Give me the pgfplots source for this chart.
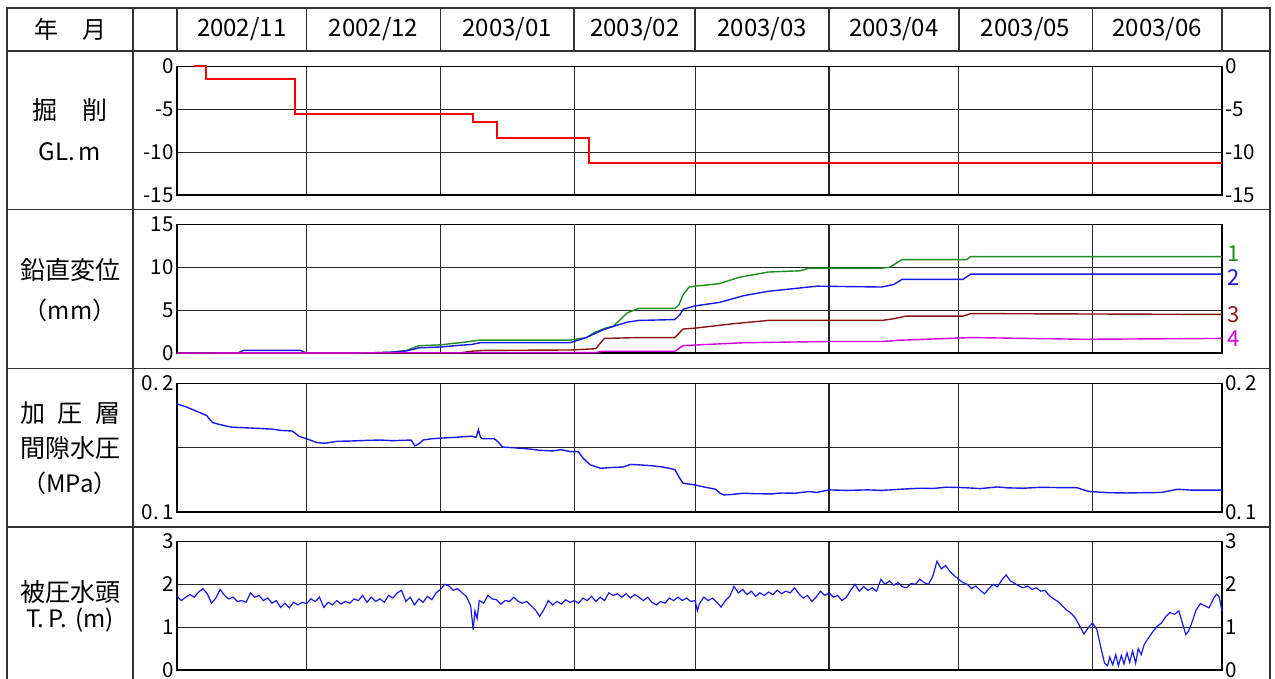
\documentclass[border=0pt]{standalone}
\usepackage{pgfplots}
\pgfplotsset{compat=1.18}
\usepackage{fontspec}
\setmainfont{Noto Sans CJK JP}
\definecolor{cgreen}{RGB}{30,140,30}
\definecolor{cblue}{RGB}{25,25,230}
\definecolor{cbrown}{RGB}{140,20,20}
\definecolor{cmag}{RGB}{210,0,220}
\definecolor{cred}{RGB}{250,0,0}
\definecolor{tline}{RGB}{50,50,50}
\newcommand\fs[1]{\fontsize{#1}{#1}\selectfont}
\tikzset{endlab/.style={pos=1, anchor=west, font=\fs{11}, inner xsep=2.5pt, inner ysep=0.3pt, text height=7.9pt, text depth=0pt}}
\pgfplotsset{
  panel/.style={
    scale only axis, width=522.5pt, height=64.25pt,
    xmin=0, xmax=242, xtick={30,61,92,120,151,181,212}, xticklabel=\empty,
    xmajorgrids, ymajorgrids,
    grid style={black!85, line width=0.65pt},
    axis line style={black, line width=0.7pt},
    major tick length=0pt, tick style={draw=none},
    yticklabel style={font=\fs{10.3}, inner sep=1.5pt},
    clip=false, anchor=south west,
  },
  rlabels/.style={
    scale only axis, width=522.5pt, height=64.25pt,
    xmin=0, xmax=242, xtick=\empty,
    axis line style={draw=none},
    major tick length=0pt, tick style={draw=none},
    yticklabel pos=right,
    yticklabel style={font=\fs{10.3}, inner sep=1.5pt},
    anchor=south west,
  },
}
\begin{document}
\begin{tikzpicture}[x=0.5pt,y=0.5pt]
\useasboundingbox (0,0) rectangle (1275,679);
\coordinate (P1) at (177,484);
\coordinate (P2) at (177,326);
\coordinate (P3) at (177,167);
\coordinate (P4) at (177,9);
% table
\draw[tline, line width=0.9pt] (7,0) -- (7,671) -- (1270,671) -- (1270,0);
\draw[tline, line width=0.9pt] (133,0) -- (133,671);
\foreach \yy in {628,469.5,310.5,152} \draw[tline, line width=0.9pt] (7,\yy) -- (1270,\yy);
\foreach \xx in {177,306.5,440.4,574.3,695.2,829,958.6,1092.4,1222} \draw[tline, line width=0.9pt] (\xx,671) -- (\xx,628);
% header text
\node[font=\fs{12}] at (70,650) {年\hspace{1em}月};
\node[font=\fs{12}] at (241.7,650) {2002/11};
\node[font=\fs{12}] at (373.5,650) {2002/12};
\node[font=\fs{12}] at (507.3,650) {2003/01};
\node[font=\fs{12}] at (634.7,650) {2003/02};
\node[font=\fs{12}] at (762.1,650) {2003/03};
\node[font=\fs{12}] at (893.8,650) {2003/04};
\node[font=\fs{12}] at (1025.5,650) {2003/05};
\node[font=\fs{12}] at (1157.2,650) {2003/06};
% left labels
\node[font=\fs{12.5}] at (70,569) {掘\hspace{1em}削};
\node[font=\fs{12}] at (70,527) {GL.\,m};
\node[font=\fs{12.5}] at (70,409) {鉛直変位};
\node[font=\fs{12}] at (70,369) {（mm）};
\node[font=\fs{12.5}] at (70,266) {加\hspace{0.5em}圧\hspace{0.5em}層};
\node[font=\fs{12.5}] at (70,231) {間隙水圧};
\node[font=\fs{12}] at (70,196) {（MPa）};
\node[font=\fs{12.5}] at (70,87) {被圧水頭};
\node[font=\fs{12}] at (70,59) {T.\,P.\,\,(m)};

% ---- Panel 1: excavation
\begin{axis}[panel, at={(P1)}, ymin=-15, ymax=0, ytick={-15,-10,-5,0}, yticklabels={-15,-10,-5,0}]
\addplot[cred, line width=1pt] coordinates {
(3.9,0) (6.7,0) (6.7,-1.5) (27.4,-1.5) (27.4,-5.5) (68.5,-5.5) (68.5,-6.5) (74.2,-6.5) (74.2,-8.3) (95.5,-8.3) (95.5,-11.3) (242,-11.3)};
\end{axis}
\begin{axis}[rlabels, at={(P1)}, ymin=-15, ymax=0, ytick={-15,-10,-5,0}, yticklabels={-15,-10,-5,0}]
\end{axis}

% ---- Panel 2: vertical displacement
\begin{axis}[panel, at={(P2)}, ymin=0, ymax=15, ytick={0,5,10,15}, yticklabels={0,5,10,15}]
\addplot[cgreen, line width=0.7pt] coordinates {
(0,0) (43.8,0) (50,0.1) (53.2,0.3) (56,0.85) (61,0.95) (65.5,1.2) (70.2,1.5) (91,1.5) (94.8,1.8) (96.7,2.4) (99.5,2.95) (101,3.1) (104.3,4.7) (106.9,5.2) (115.3,5.2) (116.2,5.6) (117.2,6.8) (118.6,7.7) (120,7.8) (125.6,8.1) (130.3,8.85) (136.9,9.45) (144.4,9.6) (146.3,9.9) (163.2,9.9) (165,10.0) (167.9,10.9) (182.9,10.9) (183.8,11.25) (242,11.25)}
node[endlab, text=cgreen, yshift=1.5pt] {1};
\addplot[cblue, line width=0.7pt] coordinates {
(0,0) (14,0) (15.4,0.3) (28.6,0.3) (30,0) (43.8,0) (50,0.1) (53.2,0.25) (56,0.6) (61,0.7) (65.5,0.9) (68.3,1.0) (70.2,1.2) (91,1.2) (94.8,1.8) (98.6,2.7) (101,3.1) (104.3,3.6) (106.9,3.8) (115.3,3.9) (116.5,4.5) (117.2,5.1) (120,5.5) (125.6,5.9) (131.3,6.7) (136.9,7.2) (148.2,7.8) (163.2,7.7) (166,8.0) (167.9,8.6) (182,8.6) (183.8,9.2) (242,9.2)}
node[endlab, text=cblue, yshift=-1.5pt] {2};
\addplot[cbrown, line width=0.7pt] coordinates {
(0,0) (65.5,0) (68,0.2) (71.2,0.3) (91,0.35) (97,0.5) (98.1,1.2) (99,1.7) (106.9,1.8) (115.3,1.8) (117.2,2.8) (120,2.9) (128.5,3.4) (136.9,3.8) (163.2,3.8) (166,4.0) (168.8,4.3) (182,4.3) (183.8,4.6) (242,4.5)}
node[endlab, text=cbrown] {3};
\addplot[cmag, line width=0.7pt] coordinates {
(0,0) (97,0.05) (98.5,0.2) (115.3,0.2) (117.2,0.86) (131.3,1.2) (151,1.34) (163.2,1.34) (167.9,1.5) (183.8,1.8) (210,1.6) (242,1.7)}
node[endlab, text=cmag] {4};
\end{axis}

% ---- Panel 3: pore water pressure
\begin{axis}[panel, at={(P3)}, ymin=0.1, ymax=0.2, ytick={0.1,0.15,0.2}, yticklabels={0.\,1,,0.\,2}]
\addplot[cblue, line width=0.7pt] coordinates {
(0,0.184) (2,0.182) (4.1,0.179) (5.5,0.177) (6.9,0.175) (7.6,0.172) (8.3,0.1695) (10,0.168) (12.6,0.166) (16,0.1655) (19.2,0.165) (22,0.1645) (24,0.1635) (26.7,0.163) (27.5,0.161) (28.2,0.159) (30,0.157) (32.4,0.154) (34.3,0.1535) (37,0.155) (40,0.1552) (43.8,0.1557) (47,0.156) (50,0.1555) (54.2,0.156) (55.1,0.1515) (56,0.153) (57,0.156) (59,0.157) (61.1,0.1575) (64,0.158) (68.3,0.159) (69.3,0.158) (69.8,0.164) (70.3,0.158) (70.7,0.157) (73.5,0.157) (74.5,0.154) (75.4,0.1505) (78,0.150) (81.6,0.149) (84,0.148) (87,0.1475) (89,0.1485) (91,0.147) (92.9,0.147) (94,0.142) (95.7,0.1367) (98.1,0.134) (100,0.1345) (103.3,0.135) (105,0.137) (106.9,0.1367) (110,0.136) (112.5,0.135) (114,0.134) (115.3,0.133) (116.3,0.127) (117.2,0.1224) (120,0.121) (122,0.1195) (124.7,0.1177) (125.6,0.115) (126.6,0.1133) (128,0.1135) (131.3,0.1146) (134,0.1142) (137.8,0.1141) (140,0.1148) (143,0.1146) (146.3,0.1159) (148.2,0.1152) (151,0.1172) (155,0.1168) (160,0.1172) (163.2,0.1168) (168,0.1178) (172,0.1185) (175,0.1183) (178.2,0.1193) (182,0.119) (186,0.1182) (190,0.1195) (192.3,0.1188) (196,0.1185) (200,0.1192) (204,0.119) (208.3,0.119) (211.1,0.116) (215.8,0.115) (220,0.1148) (223.3,0.115) (228,0.1152) (231.7,0.1177) (235,0.117) (242,0.117)};
\end{axis}
\begin{axis}[rlabels, at={(P3)}, ymin=0.1, ymax=0.2, ytick={0.1,0.2}, yticklabels={0.\,1,0.\,2}]
\end{axis}

% ---- Panel 4: artesian head
\begin{axis}[panel, at={(P4)}, ymin=0, ymax=3, ytick={0,1,2,3}, yticklabels={0,1,2,3}]
\addplot[cblue, line width=0.6pt] coordinates {
(0,1.72) (1,1.62) (2,1.70) (3,1.76) (4,1.70) (5,1.82) (6,1.90) (7,1.78) (8,1.56) (9,1.68) (10,1.88) (11,1.74) (12,1.66) (13,1.70) (14,1.60) (15,1.62) (16,1.58) (17,1.80) (18,1.70) (19,1.74) (20,1.62) (21,1.68) (22,1.56) (23,1.62) (24,1.46) (25,1.56) (26,1.45) (27,1.58) (28,1.52) (29,1.58) (30,1.55) (31,1.66) (32,1.60) (33,1.70) (34,1.46) (35,1.58) (36,1.52) (37,1.62) (38,1.54) (39,1.60) (40,1.56) (41,1.66) (42,1.62) (43,1.74) (44,1.58) (45,1.70) (46,1.60) (47,1.66) (48,1.58) (49,1.74) (50,1.68) (51,1.80) (52,1.86) (53,1.60) (54,1.70) (55,1.52) (56,1.66) (57,1.58) (58,1.72) (59,1.64) (60,1.80) (61,1.88) (62,2.00) (63,1.96) (64,1.86) (65,1.90) (66,1.80) (67,1.72) (68,1.50) (68.6,0.94) (69,1.38) (69.5,1.20) (70,1.62) (71,1.56) (72,1.74) (73,1.66) (74,1.64) (75,1.54) (76,1.62) (77,1.60) (78,1.70) (79,1.60) (80,1.56) (81,1.60) (82,1.50) (83,1.40) (84,1.25) (85,1.42) (86,1.62) (87,1.52) (88,1.60) (89,1.54) (90,1.64) (91,1.58) (92,1.62) (93,1.56) (94,1.68) (95,1.62) (96,1.72) (97,1.60) (98,1.70) (99,1.62) (100,1.80) (101,1.74) (102,1.78) (103,1.70) (104,1.78) (105,1.68) (106,1.76) (107,1.70) (108,1.62) (109,1.70) (110,1.58) (111,1.52) (112,1.60) (113,1.56) (114,1.68) (115,1.62) (116,1.70) (117,1.62) (118,1.68) (119,1.60) (120,1.62) (120.5,1.38) (121,1.55) (122,1.70) (123,1.62) (124,1.68) (125,1.58) (126,1.47) (127,1.62) (128,1.72) (129,1.95) (130,1.80) (131,1.88) (132,1.76) (133,1.84) (134,1.72) (135,1.80) (136,1.74) (137,1.82) (138,1.76) (139,1.86) (140,1.78) (141,1.84) (142,1.80) (143,1.92) (144,1.78) (145,1.68) (146,1.74) (147,1.60) (148,1.70) (149,1.84) (150,1.74) (151,1.80) (152,1.70) (153,1.74) (154,1.62) (155,1.70) (156,1.86) (157,2.00) (158,1.84) (159,1.95) (160,1.86) (161,1.92) (162,1.84) (163,2.11) (164,2.00) (165,2.08) (166,1.98) (167,2.04) (168,1.94) (169,1.92) (170,2.02) (171,2.00) (172,2.12) (173,2.04) (174,2.00) (175,2.18) (176,2.54) (177,2.36) (178,2.44) (179,2.30) (180,2.20) (181,2.12) (182,2.04) (183,2.00) (184,1.90) (185,1.96) (186,1.86) (187,1.78) (188,1.90) (189,2.00) (190,1.94) (191,2.10) (192,2.22) (193,2.08) (194,2.02) (195,1.96) (196,1.92) (197,1.96) (198,1.88) (199,1.92) (200,1.84) (201,1.86) (202,1.74) (203,1.66) (204,1.60) (205,1.50) (206,1.40) (207,1.33) (208,1.22) (209,1.04) (210,0.84) (211,0.98) (212,1.10) (213,0.95) (214,0.50) (214.8,0.16) (215.5,0.10) (216,0.30) (216.7,0.12) (217.4,0.36) (218,0.10) (218.7,0.34) (219.3,0.14) (220,0.40) (220.6,0.18) (221.3,0.44) (222,0.16) (222.6,0.50) (223.3,0.36) (224,0.60) (225,0.75) (226,0.90) (227,1.02) (228,1.10) (229,1.25) (230,1.34) (231,1.30) (232,1.38) (233,1.04) (233.6,0.83) (234.2,0.90) (235,1.10) (236,1.40) (237,1.55) (238,1.50) (239,1.45) (240,1.66) (240.7,1.77) (241.3,1.72) (242,1.38)};
\end{axis}
\begin{axis}[rlabels, at={(P4)}, ymin=0, ymax=3, ytick={0,1,2,3}, yticklabels={0,1,2,3}]
\end{axis}
\end{tikzpicture}
\end{document}
